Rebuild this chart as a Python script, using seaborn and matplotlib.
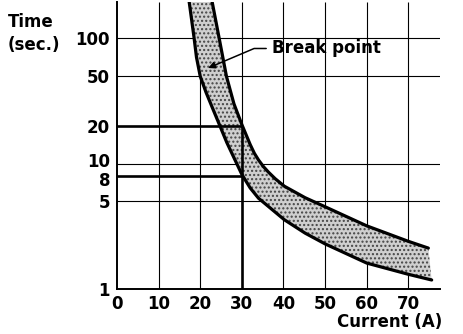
import matplotlib
matplotlib.use("Agg")
import matplotlib.pyplot as plt
import matplotlib.ticker as mticker
import matplotlib.transforms as mtransforms
import seaborn as sns

# Fusing characteristic: upper and lower limit curves of the operating band
upper_current = [22.8, 24.6, 26.3, 28.1, 30.0, 32.0, 33.0, 34.0, 35.2, 36.4,
                 38.0, 40.2, 45.2, 50.0, 60.0, 70.0, 74.8]
upper_time = [200, 98, 49.7, 30, 20.5, 14.2, 12.1, 10.7, 9.46, 8.55,
              7.59, 6.61, 5.35, 4.53, 3.19, 2.4, 2.12]

lower_current = [17.3, 18.5, 19.1, 20.0, 21.4, 23.1, 26.4, 30.0, 32.0, 34.0,
                 40.2, 45.2, 50.0, 60.0, 70.0, 75.6]
lower_time = [200, 102, 70.5, 49.7, 37, 27, 14.7, 8.2, 6.4, 5.3,
              3.57, 2.79, 2.29, 1.61, 1.31, 1.18]

# Axis ticks and grid
x_ticks = [0, 10, 20, 30, 40, 50, 60, 70]
y_ticks = [1, 5, 8, 10, 20, 50, 100]
grid_times = [5, 10, 50, 100]

# Break point reference: 30 A, between 8 s and 20 s
break_current = 30
break_times = [20, 8]

sns.set_style("white")
plt.rcParams["font.family"] = ["DejaVu Sans"]
plt.rcParams["font.weight"] = "bold"
plt.rcParams["text.color"] = "black"

fig = plt.figure(figsize=(4.64, 3.34), dpi=100)
ax = fig.add_axes([117 / 464, 45 / 334, 323 / 464, 287 / 334])

x_max = 77.6
y_min, y_max = 1, 195
ax.set_yscale("log")
ax.set_xlim(0, x_max)
ax.set_ylim(y_min, y_max)

# thin grid
ax.vlines(x_ticks[1:], y_min, y_max, color="black", lw=0.8, zorder=1)
ax.hlines(grid_times, 0, x_max, color="black", lw=0.8, zorder=1)

# shaded band between the two curves
band_x = list(upper_current) + list(lower_current[::-1])
band_y = list(upper_time) + list(lower_time[::-1])
ax.fill(band_x, band_y, facecolor="#cfcfcf", edgecolor="#444444", hatch="....",
        lw=0, zorder=2)

sns.lineplot(x=upper_current, y=upper_time, color="black", lw=2.3, ax=ax,
             sort=False, estimator=None, zorder=3)
sns.lineplot(x=lower_current, y=lower_time, color="black", lw=2.3, ax=ax,
             sort=False, estimator=None, zorder=3)

# break point reference lines
ax.hlines(break_times, 0, break_current, color="black", lw=1.9, zorder=4)
ax.vlines(break_current, y_min, max(break_times), color="black", lw=1.9, zorder=4)

ax.annotate("Break point", xy=(21.9, 58), xytext=(37.3, 83),
            fontsize=12, fontweight="bold", va="center", ha="left", color="black",
            arrowprops=dict(arrowstyle="-|>", color="black", lw=1.1,
                            mutation_scale=10, shrinkA=2, shrinkB=0,
                            relpos=(0, 0.5),
                            connectionstyle="angle,angleA=180,angleB=23,rad=0"),
            zorder=5)

ax.xaxis.set_major_locator(mticker.FixedLocator(x_ticks))
ax.yaxis.set_major_locator(mticker.FixedLocator(y_ticks))
ax.yaxis.set_minor_locator(mticker.NullLocator())
ax.yaxis.set_major_formatter(mticker.FixedFormatter([str(v) for v in y_ticks]))
ax.tick_params(axis="both", length=0, labelsize=12, colors="black")
ax.tick_params(axis="x", pad=4)
ax.tick_params(axis="y", pad=5)
for lbl in ax.get_xticklabels() + ax.get_yticklabels():
    lbl.set_fontweight("bold")

# nudge the crowded 10 / 8 labels apart
nudge = {10: 4, 8: -3}
for tick, val in zip(ax.yaxis.get_major_ticks(), y_ticks):
    if val in nudge:
        off = mtransforms.ScaledTranslation(0, nudge[val] / 100, fig.dpi_scale_trans)
        tick.label1.set_transform(tick.label1.get_transform() + off)

for side in ["top", "right"]:
    ax.spines[side].set_visible(False)
for side in ["left", "bottom"]:
    ax.spines[side].set_color("black")
    ax.spines[side].set_linewidth(1.4)

fig.text(8 / 464, 1 - 27 / 334, "Time", fontsize=12, fontweight="bold",
         va="baseline", color="black")
fig.text(8 / 464, 1 - 50 / 334, "(sec.)", fontsize=12, fontweight="bold",
         va="baseline", color="black")
fig.text(442 / 464, 1 - 327 / 334, "Current (A)", fontsize=12, fontweight="bold",
         va="baseline", ha="right", color="black")

fig.savefig("out.png", dpi=100, facecolor="white")
